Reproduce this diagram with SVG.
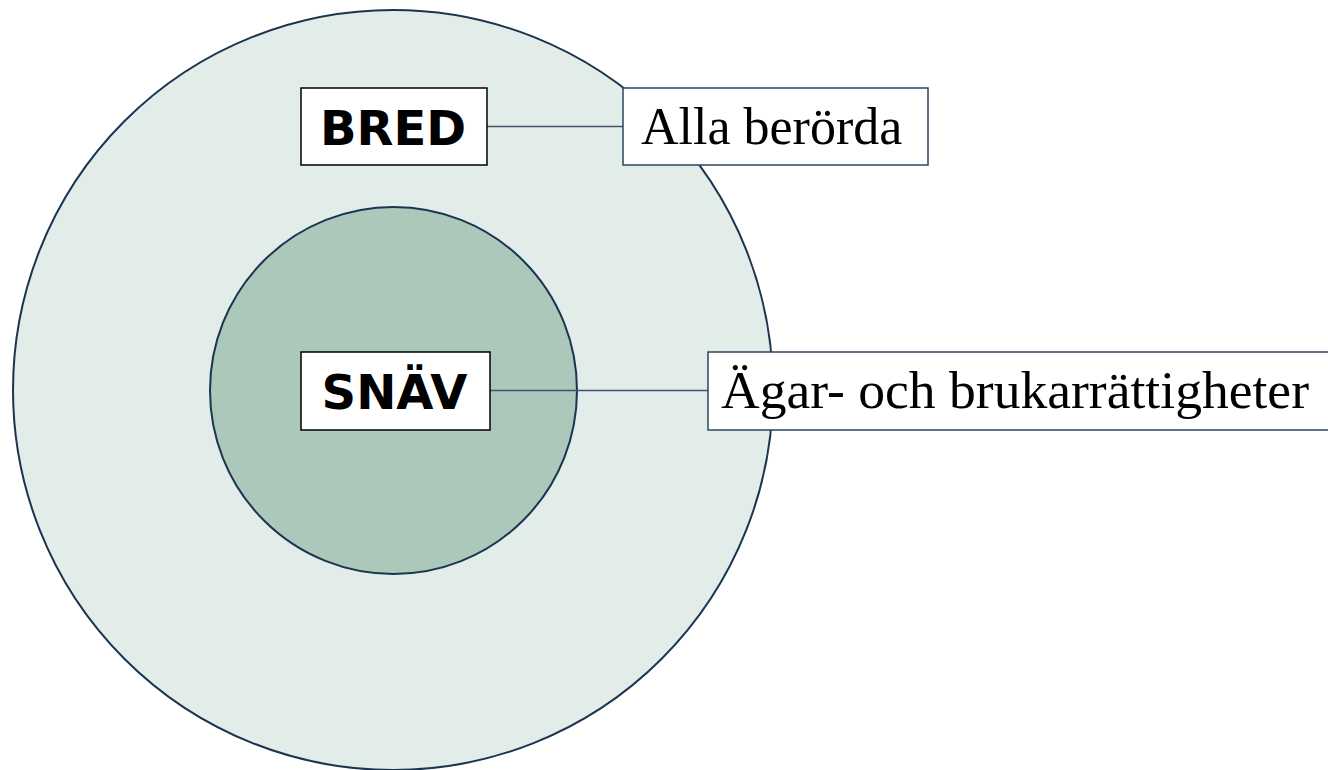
<svg xmlns="http://www.w3.org/2000/svg" width="1328" height="770" viewBox="0 0 1328 770">
<style>
.circ{stroke:#1b3450;stroke-width:2}
.box{fill:#ffffff;stroke-width:1.5}
.lbl{font-family:"DejaVu Sans",Verdana,sans-serif;font-weight:bold;font-size:48px;fill:#000;text-anchor:middle}
.desc{font-family:"Liberation Serif","Times New Roman",serif;font-size:52px;fill:#000}
.conn{stroke:#3d566c;stroke-width:1.5;fill:none}
</style>
<rect width="1328" height="770" fill="#ffffff"/>
<g id="outer">
<circle class="circ" cx="393" cy="390" r="380" fill="#e2ece9"/>
</g>
<g id="inner">
<circle class="circ" cx="393.5" cy="390.5" r="183.5" fill="#abc8bb"/>
</g>
<g id="connectors">
<line class="conn" x1="487" y1="126.5" x2="623" y2="126.5"/>
<line class="conn" x1="490" y1="390.5" x2="708" y2="390.5"/>
</g>
<g id="bred">
<rect class="box" x="301" y="88" width="186" height="77" stroke="#000"/>
<text class="lbl" x="393" y="144.5">BRED</text>
</g>
<g id="snav">
<rect class="box" x="301" y="352" width="189" height="78" stroke="#000"/>
<text class="lbl" x="394.5" y="409">SNÄV</text>
</g>
<g id="alla">
<rect class="box" x="623" y="88" width="305" height="77" stroke="#2a4560"/>
<text class="desc" x="641" y="144">Alla berörda</text>
</g>
<g id="agar">
<rect class="box" x="708" y="352" width="630" height="78" stroke="#2a4560"/>
<text class="desc" x="721" y="408" textLength="588" lengthAdjust="spacingAndGlyphs">Ägar- och brukarrättigheter</text>
</g>
</svg>
